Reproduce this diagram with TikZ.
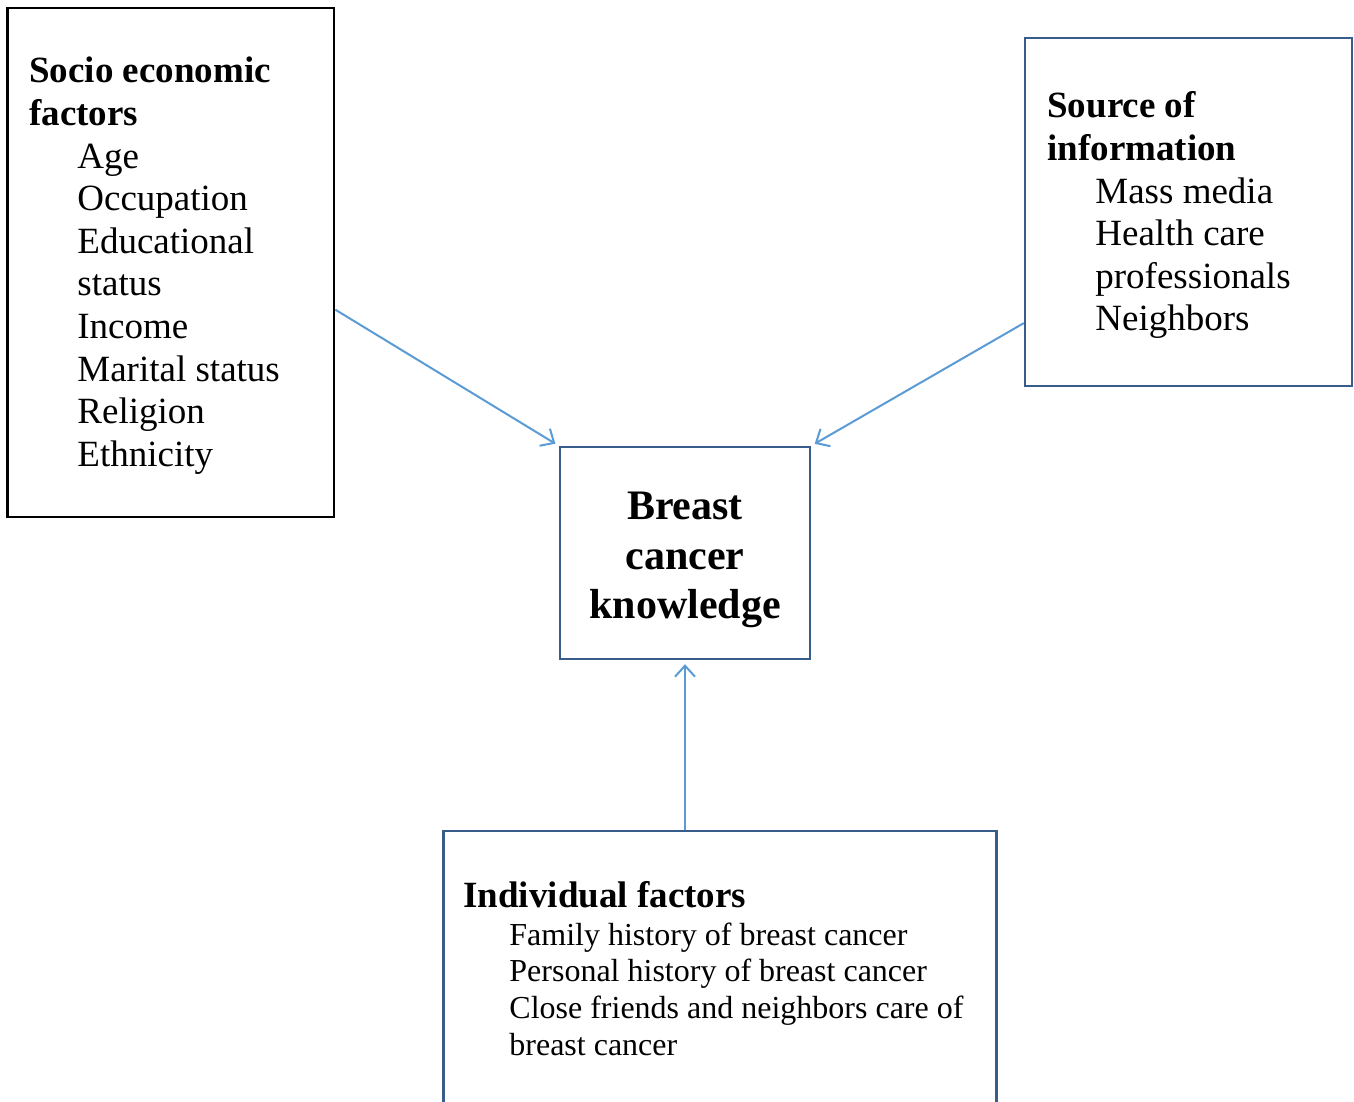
\documentclass[tikz,border=0pt]{standalone}
\usepackage{fontspec}
\setmainfont{Liberation Serif}
\usetikzlibrary{arrows.meta}

\definecolor{boxblue}{HTML}{385D8A}
\definecolor{linkblue}{HTML}{5B9BD5}

\tikzset{
    blackbox/.style={draw=black, line width=1.4pt, inner sep=0pt},
    bluebox/.style={draw=boxblue, line width=1.2pt, inner sep=0pt},
    head/.style={anchor=base west, inner sep=0pt, font=\fontsize{18.5}{21}\selectfont\bfseries},
    entry/.style={anchor=base west, inner sep=0pt, font=\fontsize{18.5}{21}\selectfont},
    subentry/.style={anchor=base west, inner sep=0pt, font=\fontsize{16}{18.5}\selectfont},
    bigtitle/.style={anchor=base, inner sep=0pt, font=\fontsize{21}{25}\selectfont\bfseries},
    link/.style={draw=linkblue, line width=1pt, -{Straight Barb[length=5.5pt,width=10pt]}, shorten >=2pt}
}

\begin{document}
\begin{tikzpicture}[x=0.5pt,y=-0.5pt]

    \useasboundingbox (0,0) rectangle (1354,1102);
    \clip (0,0) rectangle (1354,1102);

    \node[blackbox, minimum width=163.25pt, minimum height=254.5pt] (socio) at (170.75,262.5) {};
    \node[bluebox, minimum width=163.5pt, minimum height=174pt] (src) at (1188.5,212) {};
    \node[bluebox, minimum width=125pt, minimum height=106pt] (know) at (685,553) {};
    \node[bluebox, minimum width=276.5pt, minimum height=149.5pt] (indiv) at (720,980.5) {};

    \node[head] (socio-t1) at (29,83) {Socio economic};
    \node[head] (socio-t2) at (29,125.5) {factors};
    \foreach \txt [count=\i] in {Age, Occupation, Educational, status, Income, Marital status, Religion, Ethnicity}
    \node[entry] (socio-\i) at (77,{125.5+42.6*\i}) {\txt};

    \node[head] (src-t1) at (1047,118) {Source of};
    \node[head] (src-t2) at (1047,160.5) {information};
    \foreach \txt [count=\i] in {Mass media, Health care, professionals, Neighbors}
    \node[entry] (src-\i) at (1095,{160.5+42.6*\i}) {\txt};

    \foreach \txt [count=\i] in {Breast, cancer, knowledge}
    \node[bigtitle] (know-\i) at (685,{470+49.5*\i}) {\txt};

    \node[head] (indiv-t) at (463,907) {Individual factors};
    \foreach \txt [count=\i] in {Family history of breast cancer, Personal history of breast cancer, Close friends and neighbors care of, breast cancer}
    \node[subentry] (indiv-\i) at (509,{908.3+36.7*\i}) {\txt};

    \draw[link] (socio.-16.2) -- (know.north west);
    \draw[link] (src.214.4) -- (know.north east);
    \draw[link] (know.south |- indiv.north) -- (know.south);

\end{tikzpicture}
\end{document}
